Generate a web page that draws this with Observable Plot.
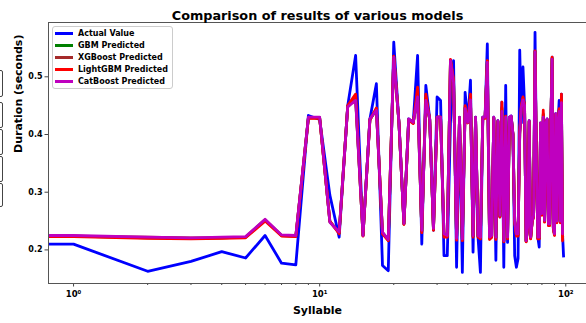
<!DOCTYPE html>
<html><head><meta charset="utf-8">
<script src="https://cdn.jsdelivr.net/npm/d3@7"></script>
<script src="https://cdn.jsdelivr.net/npm/@observablehq/plot@0.6"></script>
<style>
body{margin:0;background:#fff;}
#wrap{position:relative;width:586px;height:323px;overflow:hidden;font-family:"DejaVu Sans",sans-serif;}
#wrap svg{position:absolute;left:0;top:0;}
.lbox{position:absolute;left:-20px;width:23px;border:1px solid #444;border-radius:2px;box-sizing:border-box;background:#fff;}
#legend{position:absolute;left:52px;top:26px;width:121px;height:63px;border:1px solid #ccc;border-radius:3px;background:rgba(255,255,255,0.85);box-sizing:border-box;}
.row{position:absolute;left:2px;height:12px;display:flex;align-items:center;font-weight:bold;font-size:8px;color:#000;white-space:nowrap;}
.sw{width:18px;height:3px;margin-right:5px;}
</style></head>
<body>
<div id="wrap"></div>
<script>
const titleText = "Comparison of results of various models";
const xLabel = "Syllable";
const yLabel = "Duration (seconds)";
const seriesNames = ["Actual Value", "GBM Predicted", "XGBoost Predicted", "LightGBM Predicted", "CatBoost Predicted"];
const seriesColors = ["#0000ff", "#008000", "#a52a2a", "#ff0000", "#bf00bf"];
const xMajorTicks = [1, 10, 100];
const xMajorLabels = ["10\u2070", "10\u00b9", "10\u00b2"];
const xMinorTicks = [2, 3, 4, 5, 6, 7, 8, 9, 20, 30, 40, 50, 60, 70, 80, 90];
const yTicks = [0.2, 0.3, 0.4, 0.5];
const xDomain = [0.791, 121.4];
const yDomain = [0.1418, 0.5941];

const syllable = [
 0,1,2,3,4,5,6,7,8,9,
 10,11,12,13,14,15,16,17,18,19,
 20,21,22,23,24,25,26,27,28,29,
 30,31,32,33,34,35,36,37,38,39,
 40,41,42,43,44,45,46,47,48,49,
 50,51,52,53,54,55,56,57,58,59,
 60,61,62,63,64,65,66,67,68,69,
 70,71,72,73,74,75,76,77,78,79,
 80,81,82,83,84,85,86,87,88,89,
 90,91,92,93,94,95,96,97,98];

const actual = [
 0.210,0.210,0.163,0.180,0.197,0.186,0.225,0.177,0.174,0.433,
 0.426,0.295,0.222,0.450,0.537,0.225,0.427,0.488,0.173,0.164,
 0.560,0.420,0.246,0.427,0.421,0.537,0.210,0.485,0.427,0.234,
 0.465,0.459,0.190,0.190,0.420,0.528,0.170,0.429,0.161,0.473,
 0.421,0.494,0.196,0.430,0.222,0.161,0.430,0.430,0.557,0.222,
 0.222,0.430,0.182,0.424,0.257,0.456,0.170,0.485,0.213,0.430,
 0.432,0.400,0.190,0.170,0.185,0.546,0.420,0.517,0.450,0.216,
 0.240,0.424,0.222,0.250,0.260,0.577,0.360,0.222,0.205,0.420,
 0.263,0.430,0.251,0.420,0.427,0.245,0.245,0.420,0.534,0.240,
 0.228,0.436,0.250,0.420,0.459,0.250,0.470,0.228,0.187];

const gbm = [
 0.224,0.224,0.221,0.220,0.221,0.222,0.252,0.225,0.224,0.429,
 0.429,0.249,0.230,0.449,0.462,0.225,0.426,0.443,0.230,0.217,
 0.535,0.420,0.245,0.426,0.420,0.468,0.233,0.462,0.426,0.236,
 0.430,0.430,0.226,0.224,0.529,0.492,0.219,0.429,0.218,0.446,
 0.421,0.462,0.224,0.429,0.224,0.221,0.429,0.429,0.526,0.221,
 0.224,0.429,0.221,0.423,0.259,0.445,0.215,0.431,0.221,0.429,
 0.431,0.400,0.250,0.227,0.227,0.402,0.448,0.462,0.451,0.215,
 0.239,0.423,0.221,0.249,0.259,0.544,0.351,0.221,0.221,0.419,
 0.262,0.434,0.250,0.419,0.426,0.244,0.244,0.419,0.531,0.239,
 0.227,0.435,0.249,0.419,0.442,0.249,0.460,0.225,0.226];

const xgb = [
 0.224,0.224,0.222,0.221,0.221,0.222,0.252,0.225,0.224,0.429,
 0.429,0.249,0.230,0.448,0.463,0.225,0.426,0.444,0.229,0.217,
 0.535,0.420,0.245,0.426,0.420,0.470,0.232,0.463,0.426,0.235,
 0.430,0.430,0.225,0.224,0.529,0.493,0.219,0.429,0.218,0.447,
 0.421,0.463,0.224,0.429,0.224,0.221,0.429,0.429,0.527,0.220,
 0.224,0.429,0.220,0.423,0.258,0.447,0.215,0.431,0.221,0.429,
 0.431,0.400,0.250,0.226,0.226,0.403,0.448,0.463,0.451,0.215,
 0.239,0.423,0.220,0.249,0.259,0.544,0.351,0.220,0.220,0.419,
 0.262,0.436,0.249,0.419,0.426,0.243,0.243,0.419,0.532,0.238,
 0.227,0.435,0.248,0.419,0.443,0.248,0.462,0.222,0.222];

const lgbm = [
 0.223,0.223,0.220,0.219,0.220,0.221,0.250,0.224,0.223,0.428,
 0.428,0.250,0.228,0.450,0.470,0.224,0.425,0.446,0.228,0.216,
 0.536,0.420,0.244,0.425,0.419,0.482,0.230,0.470,0.425,0.234,
 0.430,0.430,0.222,0.222,0.530,0.495,0.217,0.428,0.216,0.450,
 0.420,0.470,0.222,0.428,0.222,0.219,0.428,0.428,0.528,0.218,
 0.222,0.428,0.218,0.422,0.257,0.456,0.214,0.432,0.219,0.428,
 0.430,0.400,0.248,0.224,0.224,0.405,0.450,0.465,0.452,0.214,
 0.238,0.422,0.219,0.248,0.258,0.545,0.352,0.219,0.219,0.418,
 0.260,0.442,0.248,0.418,0.425,0.242,0.242,0.418,0.534,0.236,
 0.225,0.434,0.247,0.418,0.445,0.247,0.470,0.216,0.215];

const catboost = [
 0.225,0.225,0.222,0.221,0.222,0.223,0.253,0.226,0.225,0.430,
 0.430,0.248,0.231,0.448,0.459,0.225,0.427,0.442,0.231,0.218,
 0.534,0.420,0.246,0.427,0.421,0.465,0.234,0.459,0.427,0.237,
 0.430,0.430,0.228,0.225,0.528,0.490,0.220,0.430,0.219,0.445,
 0.421,0.460,0.225,0.430,0.225,0.222,0.430,0.430,0.525,0.222,
 0.225,0.430,0.222,0.424,0.260,0.440,0.216,0.430,0.222,0.430,
 0.432,0.400,0.251,0.228,0.228,0.400,0.447,0.460,0.450,0.216,
 0.240,0.424,0.222,0.250,0.260,0.543,0.350,0.222,0.222,0.420,
 0.263,0.430,0.251,0.420,0.427,0.245,0.245,0.420,0.530,0.240,
 0.228,0.436,0.250,0.420,0.440,0.250,0.455,0.228,0.228];

const allSeries = [actual, gbm, xgb, lgbm, catboost];

const lineMarks = allSeries.map((vals, k) =>
  Plot.line(vals, {x: (d, i) => syllable[i], y: (d) => d, stroke: seriesColors[k], strokeWidth: 2.8, strokeLinejoin: "round", strokeLinecap: "butt"})
);

const chart = Plot.plot({
  width: 586,
  height: 323,
  marginLeft: 48,
  marginRight: 0,
  marginTop: 22,
  marginBottom: 40,
  style: {fontFamily: "DejaVu Sans", fontWeight: "bold", fontSize: "8px", color: "#000", background: "transparent", overflow: "visible"},
  x: {type: "log", domain: xDomain, clamp: true},
  y: {domain: yDomain},
  marks: [
    Plot.axisX(xMinorTicks, {tickSize: 2, tickFormat: () => "", stroke: "#444", label: null}),
    Plot.axisX(xMajorTicks, {tickSize: 3.5, tickPadding: 4, tickFormat: (d) => xMajorLabels[xMajorTicks.indexOf(d)], stroke: "#444", fill: "#000", fontSize: 8.5, label: null}),
    Plot.axisY(yTicks, {tickSize: 3.5, tickPadding: 2.5, tickFormat: d3.format(".1f"), stroke: "#444", fill: "#000", label: null}),
    ...lineMarks,
    Plot.ruleY([yDomain[0], yDomain[1]], {stroke: "#555", strokeWidth: 1}),
    Plot.ruleX([xDomain[0]], {stroke: "#555", strokeWidth: 1}),
    Plot.text([titleText], {frameAnchor: "top", dy: -12, fontSize: 12.8, fontWeight: "bold", fill: "#000"}),
    Plot.text([xLabel], {frameAnchor: "bottom", dy: 30, fontSize: 11, fontWeight: "bold", fill: "#000"}),
    Plot.text([yLabel], {frameAnchor: "left", dx: -30, rotate: -90, fontSize: 11, fontWeight: "bold", fill: "#000"})
  ]
});

const wrap = document.getElementById("wrap");
// cut-off boxes at the left edge of the picture
[[70, 27], [102, 26], [129, 26], [156, 26], [183, 24]].forEach(([t, h]) => {
  const b = document.createElement("div");
  b.className = "lbox";
  b.style.top = t + "px";
  b.style.height = h + "px";
  wrap.appendChild(b);
});
wrap.appendChild(chart);

const legend = document.createElement("div");
legend.id = "legend";
seriesNames.forEach((name, k) => {
  const row = document.createElement("div");
  row.className = "row";
  row.style.top = (k * 12.0 + 0.5) + "px";
  const sw = document.createElement("span");
  sw.className = "sw";
  sw.style.background = seriesColors[k];
  const tx = document.createElement("span");
  tx.textContent = name;
  row.appendChild(sw);
  row.appendChild(tx);
  legend.appendChild(row);
});
wrap.appendChild(legend);
</script>
</body></html>
